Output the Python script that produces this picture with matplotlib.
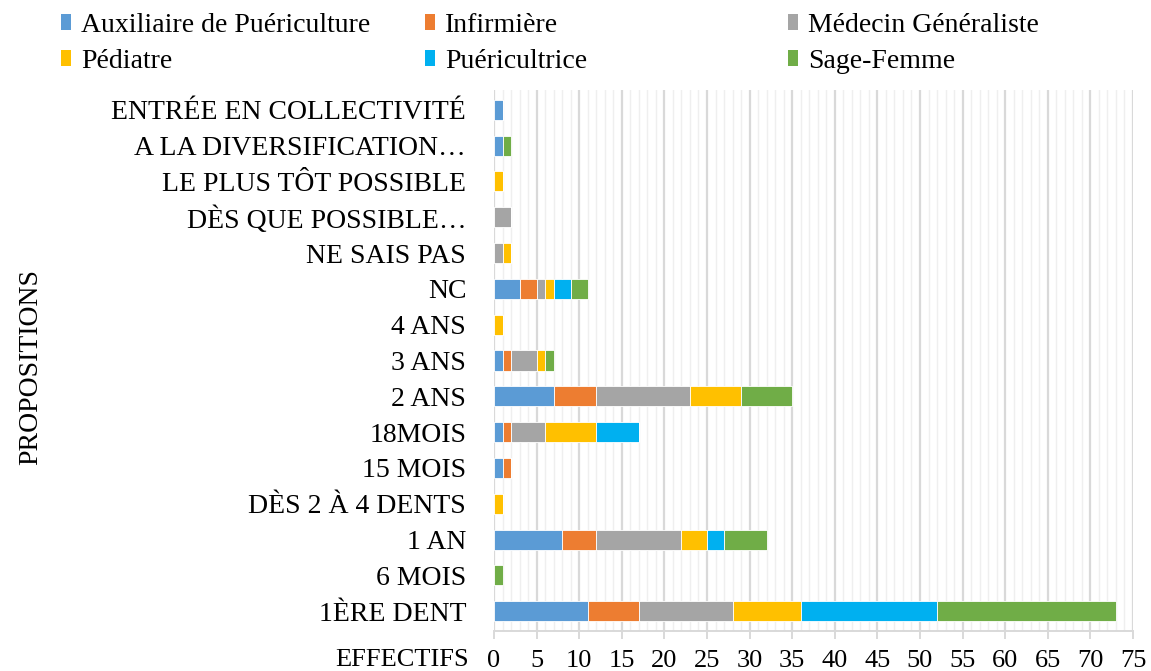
import numpy as np
import matplotlib
matplotlib.use("Agg")
import matplotlib.pyplot as plt
from matplotlib.patches import Patch
from matplotlib.ticker import MultipleLocator

plt.rcParams['font.family'] = ['Liberation Serif', 'DejaVu Serif']

# categories, top to bottom as shown
categories = ["ENTRÉE EN COLLECTIVITÉ", "A LA DIVERSIFICATION…", "LE PLUS TÔT POSSIBLE",
              "DÈS QUE POSSIBLE…", "NE SAIS PAS", "NC", "4 ANS", "3 ANS", "2 ANS",
              "18MOIS", "15 MOIS", "DÈS 2 À 4 DENTS", "1 AN", "6 MOIS", "1ÈRE DENT"]

auxiliaire    = [1, 1, 0, 0, 0, 3, 0, 1, 7, 1, 1, 0, 8, 0, 11]
infirmiere    = [0, 0, 0, 0, 0, 2, 0, 1, 5, 1, 1, 0, 4, 0, 6]
medecin       = [0, 0, 0, 2, 1, 1, 0, 3, 11, 4, 0, 0, 10, 0, 11]
pediatre      = [0, 0, 1, 0, 1, 1, 1, 1, 6, 6, 0, 1, 3, 0, 8]
puericultrice = [0, 0, 0, 0, 0, 2, 0, 0, 0, 5, 0, 0, 2, 0, 16]
sage_femme    = [0, 1, 0, 0, 0, 2, 0, 1, 6, 0, 0, 0, 5, 1, 21]

series_names = ["Auxiliaire de Puériculture", "Infirmière", "Médecin Généraliste",
                "Pédiatre", "Puéricultrice", "Sage-Femme"]
series = [auxiliaire, infirmiere, medecin, pediatre, puericultrice, sage_femme]
colors = ["#5B9BD5", "#ED7D31", "#A5A5A5", "#FFC000", "#00B0F0", "#70AD47"]

fig = plt.figure(figsize=(11.51, 6.71), dpi=100)
ax = fig.add_axes([494/1151, 1-631/671, (1133-494)/1151, (631-90)/671])

y = np.arange(len(categories))
left = np.zeros(len(categories))
for vals, c in zip(series, colors):
    ax.barh(y, vals, left=left, height=0.56, color=c, edgecolor='white', linewidth=0.6, zorder=3)
    left += np.array(vals)

ax.set_ylim(len(categories) - 0.45, -0.55)
ax.set_xlim(0, 75)
ax.xaxis.set_major_locator(MultipleLocator(5))
ax.xaxis.set_minor_locator(MultipleLocator(1))
ax.grid(which='major', axis='x', color='#d9d9d9', linewidth=1.6, zorder=0)
ax.grid(which='minor', axis='x', color='#efefef', linewidth=1.0, zorder=0)
ax.set_yticks(y)
ax.set_yticklabels(categories)
ax.tick_params(axis='y', length=0, pad=20, labelsize=20)
ax.tick_params(axis='x', which='major', length=6, width=1.4, color='#d9d9d9', pad=8, labelsize=19)
ax.tick_params(axis='x', which='minor', length=0)
for s in ['top', 'right', 'left']:
    ax.spines[s].set_visible(False)
ax.spines['bottom'].set_color('#d9d9d9')
ax.spines['bottom'].set_linewidth(1.4)

fig.text(469/1151, 1-660/671, "EFFECTIFS", ha='right', va='center', fontsize=19)
fig.text(31/1151, 1-367/671, "PROPOSITIONS", ha='center', va='center', rotation=90, fontsize=20)

# legend: three columns of two entries
col_x = [50, 414, 777]
for i, x0 in enumerate(col_x):
    handles = [Patch(facecolor=colors[i + 3*r], edgecolor='none', label=series_names[i + 3*r]) for r in range(2)]
    fig.legend(handles=handles, loc='upper left', bbox_to_anchor=(x0/1151, 1 - 2/671),
               frameon=False, fontsize=20, handlelength=0.37, handleheight=0.52,
               handletextpad=0.36, labelspacing=0.4, borderaxespad=0)

fig.savefig("out.png", dpi=100)
